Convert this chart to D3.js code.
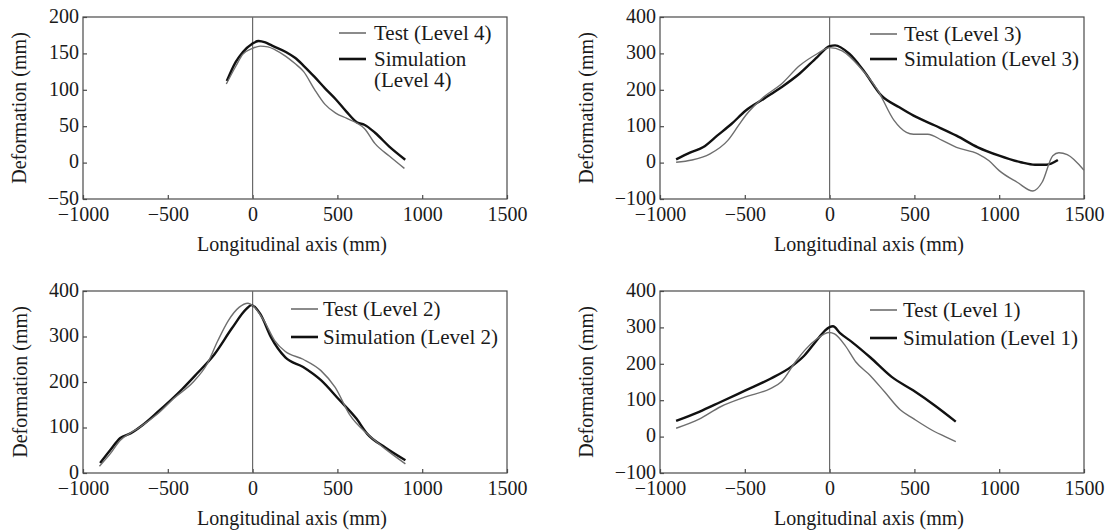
<!DOCTYPE html>
<html>
<head>
<meta charset="utf-8">
<script src="https://cdn.jsdelivr.net/npm/d3@7"></script>
<style>
  html, body { margin: 0; padding: 0; background: #fff; }
  svg { display: block; }
  text { font-family: "Liberation Serif", "Times New Roman", serif; fill: #1a1a1a; }
</style>
</head>
<body>
<svg id="chart" width="1109" height="532"></svg>
<script>
// ---------- data ----------
const xTicks = [-1000, -500, 0, 500, 1000, 1500];
const yTicksL4 = [-50, 0, 50, 100, 150, 200];
const yTicksL3 = [-100, 0, 100, 200, 300, 400];
const yTicksL2 = [0, 100, 200, 300, 400];
const yTicksL1 = [-100, 0, 100, 200, 300, 400];

const test4 = [[-155,108],[-100,132],[-57,149],[0,157],[45,160],[90,159],[133,155],[196,146],[250,136],[301,125],[364,101],[427,80],[490,68],[553,61],[617,54],[659,47],[722,26],[806,9],[895,-8]];
const sim4  = [[-152,112],[-100,138],[-57,152],[-4,163],[35,167],[75,165],[112,161],[196,152],[250,144],[301,133],[364,118],[427,102],[490,87],[553,70],[617,55],[659,52],[722,41],[806,22],[900,4]];

const test3 = [[-905,1],[-811,7],[-705,24],[-600,61],[-540,100],[-494,130],[-389,180],[-284,216],[-178,266],[-73,299],[0,316],[74,307],[179,262],[285,198],[380,116],[453,83],[495,78],[579,78],[664,61],[748,42],[874,24],[940,5],[1000,-22],[1106,-54],[1199,-78],[1253,-54],[1316,19],[1352,27],[1401,22],[1500,-21]];
const sim3  = [[-905,9],[-820,28],[-747,42],[-663,74],[-579,106],[-494,143],[-389,175],[-284,207],[-178,244],[-73,290],[0,320],[32,322],[116,299],[200,253],[306,184],[411,152],[495,129],[621,102],[748,74],[874,42],[1000,19],[1127,1],[1211,-6],[1278,-6],[1346,7]];

const test2 = [[-903,15],[-840,42],[-780,72],[-720,88],[-668,100],[-563,129],[-458,166],[-353,199],[-269,239],[-206,290],[-143,335],[-80,364],[-27,373],[4,367],[67,335],[130,291],[193,267],[298,250],[403,225],[487,188],[571,129],[676,86],[782,53],[901,20]];
const sim2  = [[-899,22],[-840,50],[-780,77],[-720,87],[-650,105],[-563,133],[-416,184],[-332,217],[-227,260],[-122,318],[-38,360],[-6,369],[46,349],[109,298],[193,254],[298,233],[403,204],[508,162],[613,119],[676,86],[782,56],[901,28]];

const test1 = [[-905,23],[-769,48],[-643,82],[-496,109],[-349,132],[-286,150],[-202,205],[-139,241],[-76,268],[-2,286],[29,282],[92,250],[155,205],[239,168],[324,123],[418,73],[492,50],[618,14],[681,0],[744,-14]];
const sim1  = [[-905,43],[-769,68],[-643,95],[-496,127],[-349,159],[-223,193],[-150,222],[-80,262],[-30,290],[0,301],[20,303],[60,285],[134,259],[239,218],[366,164],[492,127],[618,86],[744,41]];

const xTitle = "Longitudinal axis (mm)";
const yTitle = "Deformation (mm)";

// ---------- layout ----------
const panels = [
  { box: [83, 507, 17, 199],  yDomain: [-50, 200],  yTicks: yTicksL4, test: test4, sim: sim4,
    legend: { lx: 339, tx: 374, y1: 33, y2: 59, labels: ["Test (Level 4)", ["Simulation", "(Level 4)"]] }, yLabelX: 19 },
  { box: [660, 1084, 17, 199], yDomain: [-100, 400], yTicks: yTicksL3, test: test3, sim: sim3,
    legend: { lx: 870, tx: 904, y1: 34, y2: 59, labels: ["Test (Level 3)", ["Simulation (Level 3)"]] }, yLabelX: 586 },
  { box: [83, 507, 291, 473],  yDomain: [0, 400],    yTicks: yTicksL2, test: test2, sim: sim2,
    legend: { lx: 291, tx: 323, y1: 309, y2: 337, labels: ["Test (Level 2)", ["Simulation (Level 2)"]] }, yLabelX: 20 },
  { box: [660, 1084, 291, 473], yDomain: [-100, 400], yTicks: yTicksL1, test: test1, sim: sim1,
    legend: { lx: 870, tx: 903, y1: 310, y2: 338, labels: ["Test (Level 1)", ["Simulation (Level 1)"]] }, yLabelX: 586 }
];

const svg = d3.select("#chart");
const AX = "#4a4a4a";
const TEST_C = "#6e6e6e";
const SIM_C = "#111";
const fmt = d3.format("d");

panels.forEach(p => {
  const [l, r, t, b] = p.box;
  const x = d3.scaleLinear().domain([-1000, 1500]).range([l, r]);
  const y = d3.scaleLinear().domain(p.yDomain).range([b, t]);
  const g = svg.append("g");

  // frame
  g.append("rect").attr("x", l).attr("y", t).attr("width", r - l).attr("height", b - t)
    .attr("fill", "none").attr("stroke", AX).attr("stroke-width", 1.2);

  // x axis
  const xa = g.append("g").attr("transform", `translate(0,${b})`)
    .call(d3.axisBottom(x).tickValues(xTicks).tickFormat(fmt).tickSizeInner(-4).tickSizeOuter(0).tickPadding(8));
  // y axis
  const ya = g.append("g").attr("transform", `translate(${l},0)`)
    .call(d3.axisLeft(y).tickValues(p.yTicks).tickFormat(fmt).tickSizeInner(-4).tickSizeOuter(0).tickPadding(4));
  [xa, ya].forEach(a => {
    a.select(".domain").remove();
    a.selectAll(".tick line").attr("stroke", AX).attr("stroke-width", 1.2);
    a.selectAll(".tick text").attr("font-size", 20).attr("fill", "#1a1a1a")
      .attr("font-family", '"Liberation Serif", serif');
  });
  ya.selectAll(".tick text").attr("dy", "0.26em");

  // zero line
  g.append("line").attr("x1", x(0)).attr("x2", x(0)).attr("y1", t).attr("y2", b)
    .attr("stroke", "#6a6a6a").attr("stroke-width", 1.2);

  const line = d3.line().x(d => x(d[0])).y(d => y(d[1])).curve(d3.curveMonotoneX);
  g.append("path").datum(p.sim).attr("d", line).attr("fill", "none")
    .attr("stroke", SIM_C).attr("stroke-width", 2.4).attr("stroke-linejoin", "round");
  g.append("path").datum(p.test).attr("d", line).attr("fill", "none")
    .attr("stroke", TEST_C).attr("stroke-width", 1.4).attr("stroke-linejoin", "round");

  // legend
  const L = p.legend;
  g.append("line").attr("x1", L.lx).attr("x2", L.lx + 27).attr("y1", L.y1).attr("y2", L.y1)
    .attr("stroke", TEST_C).attr("stroke-width", 1.6);
  g.append("line").attr("x1", L.lx).attr("x2", L.lx + 27).attr("y1", L.y2).attr("y2", L.y2)
    .attr("stroke", SIM_C).attr("stroke-width", 2.6);
  g.append("text").attr("x", L.tx).attr("y", L.y1).attr("dy", "0.33em")
    .attr("font-size", 21).text(L.labels[0]);
  L.labels[1].forEach((s, i) => {
    g.append("text").attr("x", L.tx).attr("y", L.y2 + i * 21).attr("dy", "0.33em")
      .attr("font-size", 21).text(s);
  });

  // axis titles
  g.append("text").attr("x", (l + r) / 2 - 3).attr("y", b + 52)
    .attr("text-anchor", "middle").attr("font-size", 20).text(xTitle);
  g.append("text").attr("transform", `translate(${p.yLabelX},${(t + b) / 2}) rotate(-90)`)
    .attr("text-anchor", "middle").attr("dy", "0.35em").attr("font-size", 20).text(yTitle);
});
</script>
</body>
</html>
